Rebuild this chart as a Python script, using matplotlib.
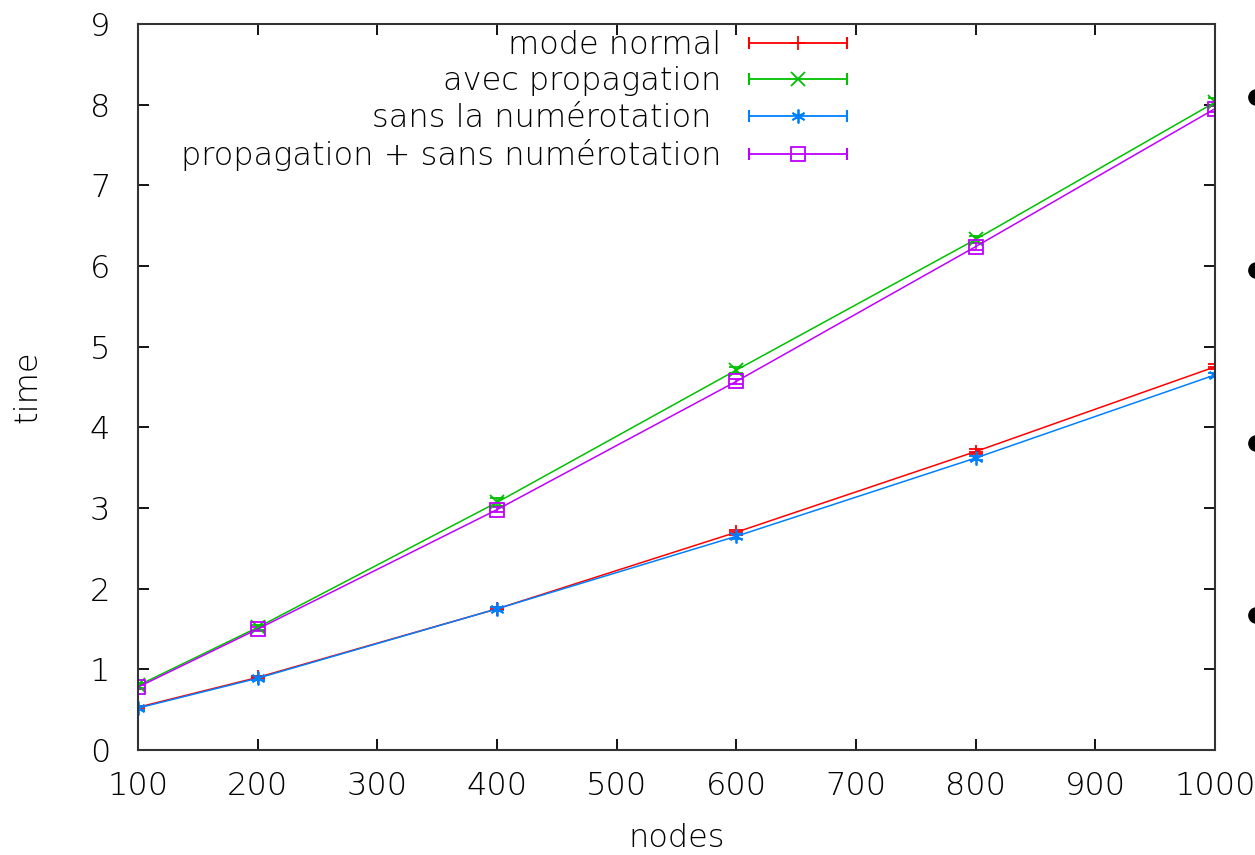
import numpy as np
import matplotlib.pyplot as plt
from matplotlib.lines import Line2D
from matplotlib.legend_handler import HandlerTuple, HandlerLine2D

nodes = [100, 200, 400, 600, 800, 1000]

mode_normal = [0.53, 0.90, 1.75, 2.70, 3.70, 4.75]
avec_propagation = [0.80, 1.52, 3.07, 4.71, 6.33, 8.03]
sans_numerotation = [0.52, 0.89, 1.75, 2.65, 3.62, 4.65]
prop_sans_num = [0.78, 1.50, 2.98, 4.57, 6.24, 7.95]

err_normal = [0.02, 0.02, 0.02, 0.03, 0.03, 0.03]
err_prop = [0.03, 0.03, 0.05, 0.04, 0.04, 0.05]
err_sans = [0.02, 0.02, 0.02, 0.03, 0.03, 0.03]
err_prop_sans = [0.02, 0.03, 0.03, 0.03, 0.04, 0.04]

labels = ["mode normal", "avec propagation", "sans la numérotation ",
          "propagation + sans numérotation"]
colors = ["#ff0000", "#00c000", "#0080ff", "#c000ff"]
markers = ["+", "x", (6, 2, 0), "s"]

series = [mode_normal, avec_propagation, sans_numerotation, prop_sans_num]
errors = [err_normal, err_prop, err_sans, err_prop_sans]

plt.rcParams["font.family"] = "DejaVu Sans"
plt.rcParams["font.weight"] = "light"
txt = "#000000"
fs = 23

fig = plt.figure(figsize=(12.55, 8.55), dpi=100)
ax = fig.add_axes([0.110, 0.1228, 0.858, 0.849])

for y, e, c, m in zip(series, errors, colors, markers):
    ax.errorbar(nodes, y, yerr=e, color=c, lw=1.1, marker=m, markersize=10,
                mfc="none" if m == "s" else c, mew=1.3, capsize=5, elinewidth=1.1)

ax.set_xlim(100, 1000)
ax.set_ylim(0, 9)
ax.set_xticks(np.arange(100, 1001, 100))
ax.set_yticks(np.arange(0, 10, 1))
ax.tick_params(direction="in", length=8, width=1.3, top=True, right=True,
               labelsize=fs, colors=txt)
ax.tick_params(axis="x", pad=15)
ax.tick_params(axis="y", pad=20)
for s in ax.spines.values():
    s.set_linewidth(1.5)
    s.set_color("#333333")

ax.set_xlabel("nodes", fontsize=fs, color=txt, fontweight="light", labelpad=16)
ax.set_ylabel("time", fontsize=fs, color=txt, fontweight="light", labelpad=34)

# legend samples, gnuplot style: caps at both ends and point in the middle
handles = []
hmap = {tuple: HandlerTuple(ndivide=1, pad=0)}
for c, m in zip(colors, markers):
    caps = Line2D([], [], color=c, lw=1.3, marker="|", markersize=9, mew=1.5)
    mid = Line2D([], [], color=c, ls="none", marker=m, markersize=10,
                 mfc="none" if m == "s" else c, mew=1.3)
    hmap[caps] = HandlerLine2D(numpoints=2, marker_pad=0)
    hmap[mid] = HandlerLine2D(numpoints=1)
    handles.append((caps, mid))

ax.legend(handles, labels, handler_map=hmap, loc="upper right",
          bbox_to_anchor=(0.658, 0.992), frameon=False, markerfirst=False,
          fontsize=fs, handlelength=3.05, handletextpad=0.87, labelspacing=0.2,
          borderpad=0, borderaxespad=0, labelcolor=txt)

# bullets of the slide, cut by the right edge
for yb in [0.887, 0.684, 0.482, 0.281]:
    fig.add_artist(Line2D([1.0004], [yb], transform=fig.transFigure, marker="o",
                          markersize=11, color="black", ls="none"))

fig.savefig("out.png", dpi=100)
